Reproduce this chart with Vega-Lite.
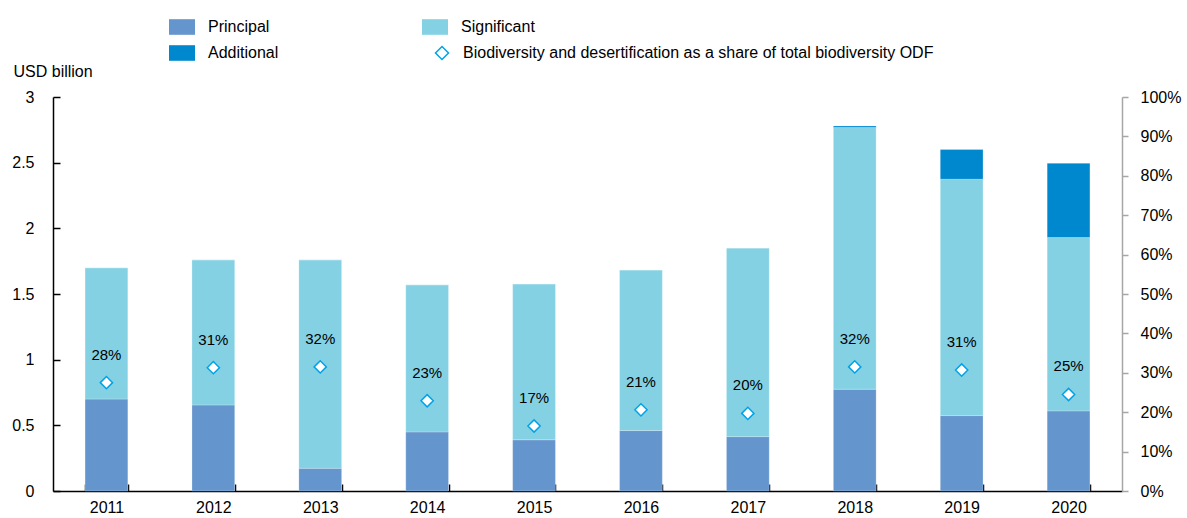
{
  "$schema": "https://vega.github.io/schema/vega-lite/v6.json",
  "width": 1069,
  "height": 394,
  "autosize": {"type": "none"},
  "padding": {"left": 53, "top": 97, "right": 65, "bottom": 27},
  "config": {
    "view": {"stroke": null},
    "font": "Liberation Sans",
    "axis": {"labelFont": "Liberation Sans", "titleFont": "Liberation Sans", "labelColor": "#000000", "titleColor": "#000000", "grid": false},
    "legend": {"labelFont": "Liberation Sans"}
  },
  "datasets": {
    "bars": [
      {"year": "2011", "series": "Principal", "rank": 1, "value": 0.70},
      {"year": "2011", "series": "Significant", "rank": 2, "value": 1.00},
      {"year": "2011", "series": "Additional", "rank": 3, "value": 0.00},
      {"year": "2012", "series": "Principal", "rank": 1, "value": 0.655},
      {"year": "2012", "series": "Significant", "rank": 2, "value": 1.105},
      {"year": "2012", "series": "Additional", "rank": 3, "value": 0.00},
      {"year": "2013", "series": "Principal", "rank": 1, "value": 0.173},
      {"year": "2013", "series": "Significant", "rank": 2, "value": 1.587},
      {"year": "2013", "series": "Additional", "rank": 3, "value": 0.00},
      {"year": "2014", "series": "Principal", "rank": 1, "value": 0.45},
      {"year": "2014", "series": "Significant", "rank": 2, "value": 1.12},
      {"year": "2014", "series": "Additional", "rank": 3, "value": 0.00},
      {"year": "2015", "series": "Principal", "rank": 1, "value": 0.39},
      {"year": "2015", "series": "Significant", "rank": 2, "value": 1.187},
      {"year": "2015", "series": "Additional", "rank": 3, "value": 0.00},
      {"year": "2016", "series": "Principal", "rank": 1, "value": 0.46},
      {"year": "2016", "series": "Significant", "rank": 2, "value": 1.223},
      {"year": "2016", "series": "Additional", "rank": 3, "value": 0.00},
      {"year": "2017", "series": "Principal", "rank": 1, "value": 0.414},
      {"year": "2017", "series": "Significant", "rank": 2, "value": 1.436},
      {"year": "2017", "series": "Additional", "rank": 3, "value": 0.00},
      {"year": "2018", "series": "Principal", "rank": 1, "value": 0.775},
      {"year": "2018", "series": "Significant", "rank": 2, "value": 1.992},
      {"year": "2018", "series": "Additional", "rank": 3, "value": 0.013},
      {"year": "2019", "series": "Principal", "rank": 1, "value": 0.574},
      {"year": "2019", "series": "Significant", "rank": 2, "value": 1.80},
      {"year": "2019", "series": "Additional", "rank": 3, "value": 0.226},
      {"year": "2020", "series": "Principal", "rank": 1, "value": 0.61},
      {"year": "2020", "series": "Significant", "rank": 2, "value": 1.32},
      {"year": "2020", "series": "Additional", "rank": 3, "value": 0.565}
    ],
    "share": [
      {"year": "2011", "share": 0.275, "label": "28%"},
      {"year": "2012", "share": 0.313, "label": "31%"},
      {"year": "2013", "share": 0.315, "label": "32%"},
      {"year": "2014", "share": 0.229, "label": "23%"},
      {"year": "2015", "share": 0.165, "label": "17%"},
      {"year": "2016", "share": 0.206, "label": "21%"},
      {"year": "2017", "share": 0.197, "label": "20%"},
      {"year": "2018", "share": 0.315, "label": "32%"},
      {"year": "2019", "share": 0.307, "label": "31%"},
      {"year": "2020", "share": 0.245, "label": "25%"}
    ]
  },
  "encoding": {
    "x": {
      "field": "year", "type": "ordinal", "title": null,
      "scale": {"paddingInner": 0.6, "paddingOuter": 0.3},
      "axis": {"labelAngle": 0, "labelFontSize": 16, "domainColor": "#000000", "tickColor": "#000000", "tickSize": -7, "tickBand": "extent", "labelPadding": 15, "domainWidth": 1.5, "tickWidth": 1.5}
    }
  },
  "layer": [
    {
      "data": {"name": "bars"},
      "mark": {"type": "bar", "stroke": "#ffffff", "strokeWidth": 0.4, "strokeOpacity": 0.6},
      "encoding": {
        "y": {
          "field": "value", "type": "quantitative", "stack": "zero",
          "scale": {"domain": [0, 3], "nice": false},
          "axis": {"values": [0, 0.5, 1, 1.5, 2, 2.5, 3], "format": "~g", "labelFontSize": 16, "domainColor": "#000000", "tickColor": "#000000", "tickSize": -7, "labelPadding": 26, "domainWidth": 1.5, "tickWidth": 1.5,
            "title": "USD billion", "titleAngle": 0, "titleAlign": "left", "titleBaseline": "middle", "titleX": -40, "titleY": -26, "titleFontSize": 16, "titleFontWeight": "normal"}
        },
        "color": {
          "field": "series", "type": "nominal",
          "scale": {
            "domain": ["Principal", "Additional", "Significant"],
            "range": ["#6495CD", "#0088CE", "#84D1E4"]
          },
          "legend": {
            "title": null, "orient": "none", "legendX": 116, "legendY": -83,
            "columns": 2, "columnPadding": 143, "rowPadding": 5, "padding": 0,
            "labelFontSize": 16, "labelOffset": 13, "labelLimit": 1000, "labelColor": "#000000",
            "symbolSize": 676, "symbolType": "M-1,-0.6H1V0.6H-1Z", "symbolStrokeWidth": 0, "symbolOpacity": 1
          }
        },
        "order": {"field": "rank", "type": "quantitative", "sort": "ascending"}
      }
    },
    {
      "data": {"name": "share"},
      "encoding": {
        "y": {
          "field": "share", "type": "quantitative",
          "scale": {"domain": [0, 1], "nice": false},
          "axis": {"orient": "right", "values": [0, 0.1, 0.2, 0.3, 0.4, 0.5, 0.6, 0.7, 0.8, 0.9, 1], "format": ".0%", "labelFontSize": 16, "domainColor": "#A6A6A6", "tickColor": "#A6A6A6", "tickSize": 6, "labelPadding": 12, "domainWidth": 1.5, "tickWidth": 1.5, "title": null}
        }
      },
      "layer": [
        {
          "mark": {"type": "point", "size": 150, "filled": false, "fill": "#ffffff", "color": "#00A3E8", "strokeWidth": 1.5, "opacity": 1},
          "encoding": {
            "shape": {
              "datum": "Biodiversity and desertification as a share of total biodiversity ODF",
              "scale": {"domain": ["Biodiversity and desertification as a share of total biodiversity ODF"], "range": ["diamond"]},
              "legend": {
                "title": null, "orient": "none", "legendX": 381, "legendY": -52, "padding": 0,
                "labelFontSize": 16, "labelOffset": 13, "labelLimit": 1000, "labelColor": "#000000",
                "symbolSize": 170, "symbolStrokeWidth": 1.5, "symbolOpacity": 1
              }
            }
          }
        },
        {
          "mark": {"type": "text", "dy": -28, "fontSize": 15, "color": "#000000"},
          "encoding": {"text": {"field": "label"}}
        }
      ]
    }
  ],
  "resolve": {"scale": {"y": "independent"}}
}
